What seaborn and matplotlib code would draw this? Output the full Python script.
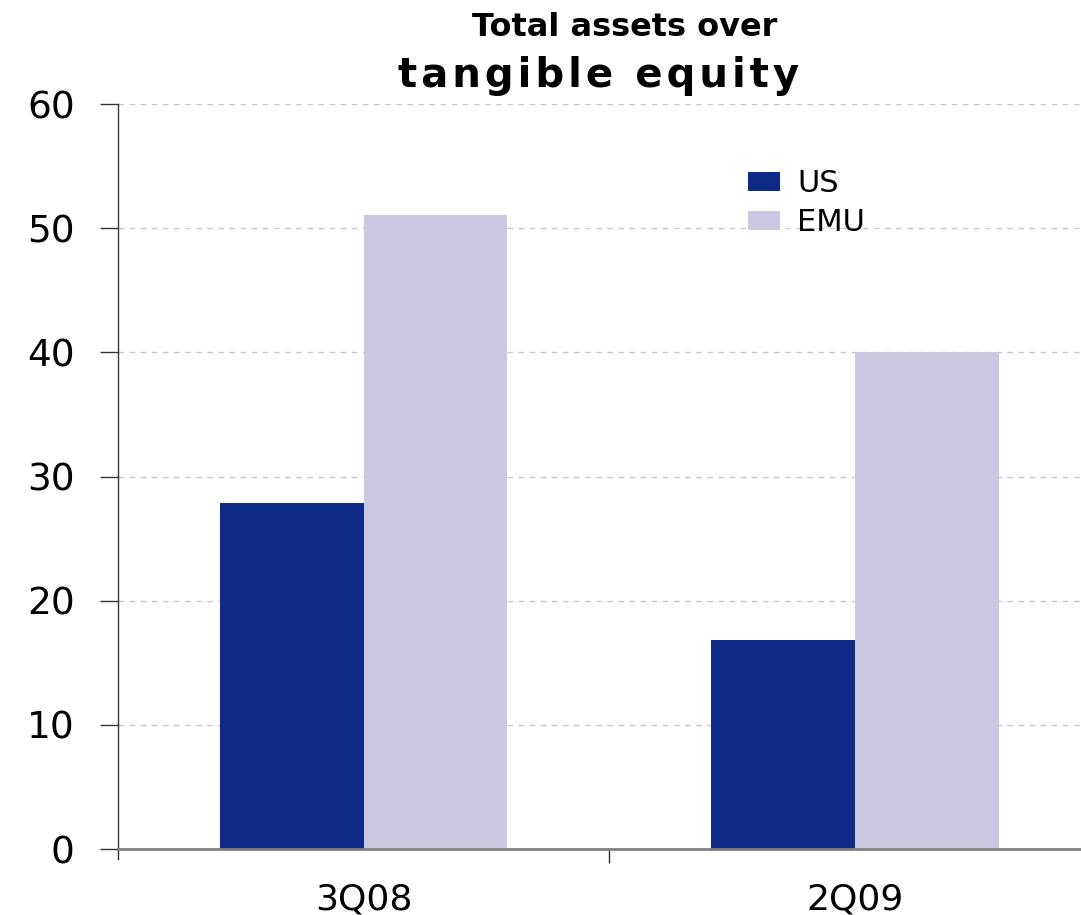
import matplotlib
matplotlib.use("Agg")
import matplotlib.pyplot as plt
import seaborn as sns
import pandas as pd
from matplotlib.ticker import FixedLocator

categories = ["3Q08", "2Q09"]
us_values = [27.9, 16.8]
emu_values = [51.1, 40.0]
series_names = ["US", "EMU"]
y_ticks = [0, 10, 20, 30, 40, 50, 60]

df = pd.DataFrame({
    "period": categories * 2,
    "series": [series_names[0]] * 2 + [series_names[1]] * 2,
    "value": us_values + emu_values,
})

sns.set_style("white")
plt.rcParams['font.family'] = ['DejaVu Sans']
plt.rcParams['text.color'] = 'black'
plt.rcParams['xtick.color'] = 'black'
plt.rcParams['ytick.color'] = 'black'

fig = plt.figure(figsize=(10.81, 9.15), dpi=100)
ax = fig.add_axes([0.109, 0.0721, 0.891, 0.8142])

sns.barplot(data=df, x="period", y="value", hue="series", order=categories,
            hue_order=series_names, palette=["#0F2B88", "#CAC8E0"],
            width=0.585, saturation=1, ax=ax, legend=True, errorbar=None,
            linewidth=0)

ax.set_xlim(-0.5, 1.46)
ax.set_ylim(0, 60)
ax.set_yticks(y_ticks)
ax.set_yticklabels([str(t) for t in y_ticks], fontsize=27)
ax.yaxis.grid(True, linestyle=(0, (4, 4)), color="#c8c8c8", linewidth=1)
ax.set_axisbelow(True)

ax.set_xticks([0, 1])
ax.set_xticklabels(categories, fontsize=26)
ax.xaxis.set_minor_locator(FixedLocator([0.5]))
ax.tick_params(axis="x", which="major", bottom=True, length=0, pad=24)
ax.tick_params(axis="x", which="minor", bottom=True, length=10, width=1,
               color="#333333", direction="out")
ax.tick_params(axis="y", which="major", left=True, length=13, width=1,
               color="#333333", direction="out", pad=18)

for s in ["top", "right"]:
    ax.spines[s].set_visible(False)
ax.spines["left"].set_color("#333333")
ax.spines["left"].set_linewidth(1)
ax.spines["left"].set_bounds(-0.8, 60)
ax.spines["bottom"].set_color("#808080")
ax.spines["bottom"].set_linewidth(2)
ax.set_xlabel("")
ax.set_ylabel("")

handles, labels = ax.get_legend_handles_labels()
ax.get_legend().remove()
fig.legend(handles, labels, loc="upper left", bbox_to_anchor=(0.692, 0.815),
           bbox_transform=fig.transFigure, frameon=False,
           fontsize=22, handlelength=1.05, handleheight=0.55,
           handletextpad=0.55, labelspacing=0.33, borderpad=0, borderaxespad=0)

fig.text(0.578, 0.970, "Total assets over", ha="center", va="center",
         fontsize=23, fontweight="bold")
fig.text(0.554, 0.917, "\u200a".join("tangible equity"), ha="center", va="center",
         fontsize=29, fontweight="bold")

fig.savefig("out.png", dpi=100)
